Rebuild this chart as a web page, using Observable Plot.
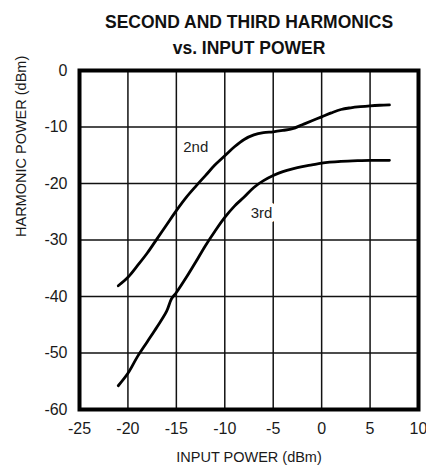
<!DOCTYPE html>
<html>
<head>
<meta charset="utf-8">
<script src="https://cdn.jsdelivr.net/npm/d3@7"></script>
<script src="https://cdn.jsdelivr.net/npm/@observablehq/plot@0.6"></script>
<style>
  html, body { margin: 0; padding: 0; background: #fff; }
  #chart svg { display: block; }
</style>
</head>
<body>
<div id="chart"></div>
<script>
const titleLines = ["SECOND AND THIRD HARMONICS", "vs. INPUT POWER"];
const xLabel = "INPUT POWER (dBm)";
const yLabel = "HARMONIC POWER (dBm)";
const xTicks = [-25, -20, -15, -10, -5, 0, 5, 10];
const yTicks = [0, -10, -20, -30, -40, -50, -60];

const inputPower2nd = [-21, -20, -19, -18, -17, -16, -15, -14, -13, -12, -11, -10, -9, -8, -7, -6, -5, -4, -3, -2, -1, 0, 1, 2, 3, 4, 5, 6, 7];
const harmonic2nd   = [-38.1, -36.6, -34.5, -32.3, -29.8, -27.3, -24.8, -22.5, -20.5, -18.6, -16.7, -15.1, -13.5, -12.2, -11.4, -11.0, -10.85, -10.6, -10.3, -9.6, -8.9, -8.2, -7.5, -6.9, -6.6, -6.4, -6.25, -6.15, -6.1];

const inputPower3rd = [-21, -20, -19, -18, -17, -16, -15.5, -15, -14, -13, -12, -11, -10, -9, -8, -7, -6, -5, -4, -3, -2, -1, 0, 2, 4, 5, 7];
const harmonic3rd   = [-55.8, -53.6, -50.6, -48.0, -45.4, -42.6, -40.4, -39.3, -36.7, -33.9, -31.0, -28.4, -26.0, -24.0, -22.4, -20.7, -19.5, -18.6, -17.9, -17.4, -17.0, -16.7, -16.4, -16.1, -15.95, -15.9, -15.9];

const curveLabels = ["2nd", "3rd"];
const labelX = [-13.0, -6.2];
const labelY = [-13.5, -25.2];

const series = [
  ...inputPower2nd.map((x, i) => ({x, y: harmonic2nd[i], s: "2nd"})),
  ...inputPower3rd.map((x, i) => ({x, y: harmonic3rd[i], s: "3rd"}))
];
const labels = curveLabels.map((t, i) => ({t, x: labelX[i], y: labelY[i]}));

const FONT = "'Liberation Sans', Arial, sans-serif";
const fmt = d => String(d);

const chart = Plot.plot({
  width: 426,
  height: 468,
  marginLeft: 79,
  marginRight: 8,
  marginTop: 70,
  marginBottom: 59,
  style: {fontFamily: FONT, fontSize: "16px", color: "#1a1a1a", background: "#fff"},
  x: {domain: [-25, 10], ticks: xTicks},
  y: {domain: [-60, 0], ticks: yTicks},
  marks: [
    Plot.gridX(xTicks, {stroke: "#111", strokeOpacity: 1, strokeWidth: 1.5}),
    Plot.gridY(yTicks, {stroke: "#111", strokeOpacity: 1, strokeWidth: 1.5}),
    Plot.axisX(xTicks, {tickSize: 0, tickPadding: 13, fontSize: 16, label: null, tickFormat: fmt, fill: "#1a1a1a"}),
    Plot.axisY(yTicks, {tickSize: 0, tickPadding: 12, fontSize: 16, label: null, tickFormat: fmt, fill: "#1a1a1a"}),
    Plot.line(series, {x: "x", y: "y", z: "s", stroke: "#000", strokeWidth: 2.8, curve: "catmull-rom"}),
    Plot.text(labels, {x: "x", y: "y", text: "t", fontSize: 15, fill: "#222", stroke: "#fff", strokeWidth: 8, paintOrder: "stroke"}),
    Plot.frame({stroke: "#000", strokeWidth: 4}),
    Plot.text([titleLines[0]], {frameAnchor: "top", dy: -43, fontSize: 17.5, fontWeight: "bold", fill: "#111", lineAnchor: "bottom"}),
    Plot.text([titleLines[1]], {frameAnchor: "top", dy: -17, fontSize: 17.5, fontWeight: "bold", fill: "#111", lineAnchor: "bottom"}),
    Plot.text([xLabel], {frameAnchor: "bottom", dy: 52, fontSize: 14.5, fill: "#1a1a1a", lineAnchor: "bottom"}),
    Plot.text([yLabel], {frameAnchor: "left", dx: -58, dy: -3, rotate: -90, fontSize: 14.5, fill: "#1a1a1a"})
  ]
});
document.getElementById("chart").appendChild(chart);
</script>
</body>
</html>
